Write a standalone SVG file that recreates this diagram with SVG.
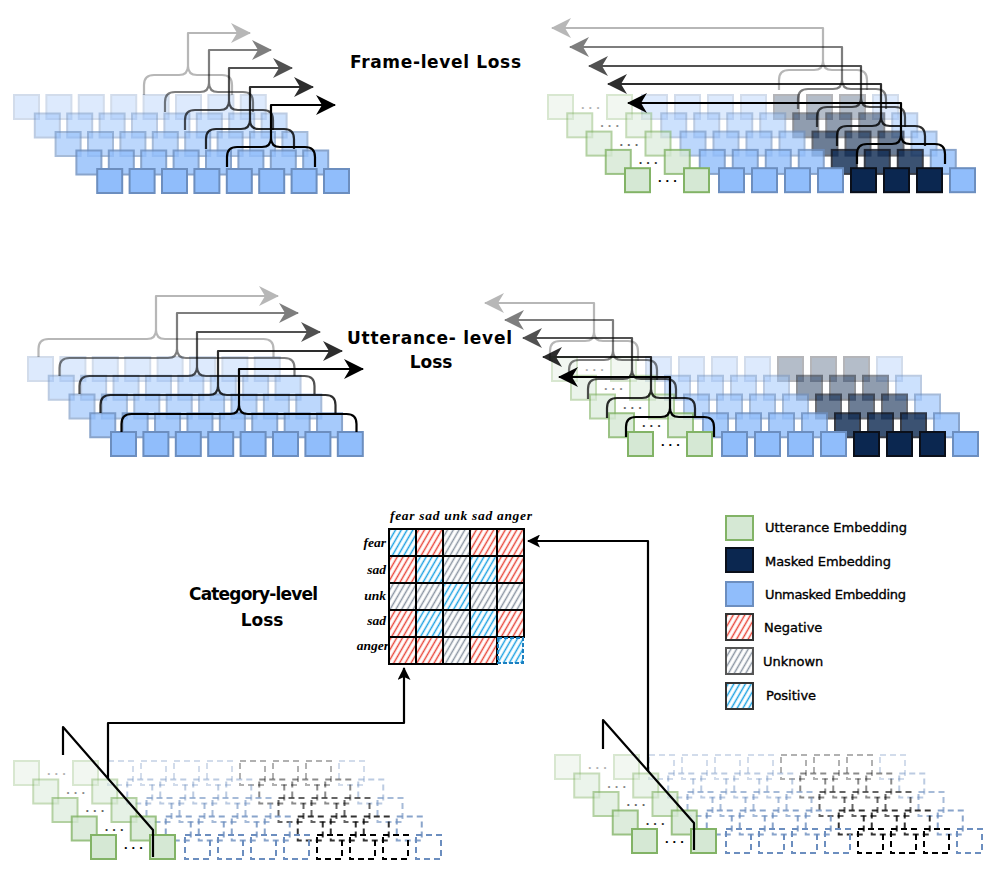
<svg xmlns="http://www.w3.org/2000/svg" xmlns:xlink="http://www.w3.org/1999/xlink" width="997" height="875" viewBox="0 0 997 875">
<style>
.ub{fill:#90bdfb;stroke:#6c8ebf;stroke-width:2}
.ug{fill:#d5e8d4;stroke:#82b366;stroke-width:2}
.mk{fill:#0b2750;stroke:#0a0f1a;stroke-width:2}
.ubd{fill:none;stroke:#6c8ebf;stroke-width:2;stroke-dasharray:6 4}
.mkd{fill:none;stroke:#000;stroke-width:2;stroke-dasharray:6 4}
.br{fill:none;stroke:#000;stroke-width:2.2;stroke-linejoin:round}
.ar{fill:none;stroke:#000;stroke-width:2.2;stroke-linejoin:round}
.dots{font-family:"Liberation Sans",Arial,sans-serif;font-weight:bold;font-size:13px;letter-spacing:4px;fill:#000}
.title{font-family:"DejaVu Sans",sans-serif;font-weight:bold;font-size:17px;fill:#000}
.leg{font-family:"DejaVu Sans",sans-serif;font-size:13px;fill:#000;stroke:#000;stroke-width:0.35}
.lab{font-family:"Liberation Serif","Times New Roman",serif;font-style:italic;font-weight:bold;font-size:13.5px;fill:#000}
.cell{stroke:#000;stroke-width:2}
</style>
<defs>
<marker id="ah" viewBox="0 0 20 20" refX="19" refY="10" markerWidth="20" markerHeight="20" markerUnits="userSpaceOnUse" orient="auto"><path d="M0,0 L20,10 L0,20 L6,10 Z" fill="#000"/></marker>
<marker id="ahs" viewBox="0 0 13 13" refX="12" refY="6.5" markerWidth="13" markerHeight="13" markerUnits="userSpaceOnUse" orient="auto"><path d="M0,0 L13,6.5 L0,13 L3,6.5 Z" fill="#000"/></marker>
<pattern id="hR" width="5" height="5" patternUnits="userSpaceOnUse" patternTransform="rotate(30)"><line x1="2.5" y1="0" x2="2.5" y2="5" stroke="#e8473a" stroke-width="1.5"/></pattern>
<pattern id="hG" width="5" height="5" patternUnits="userSpaceOnUse" patternTransform="rotate(30)"><line x1="2.5" y1="0" x2="2.5" y2="5" stroke="#8a94a2" stroke-width="1.5"/></pattern>
<pattern id="hB" width="5" height="5" patternUnits="userSpaceOnUse" patternTransform="rotate(30)"><line x1="2.5" y1="0" x2="2.5" y2="5" stroke="#1ba1e2" stroke-width="1.5"/></pattern>
<g id="plainRow">
<rect class="ub" x="0" y="0" width="25" height="24"/><rect class="ub" x="32.4" y="0" width="25" height="24"/><rect class="ub" x="64.8" y="0" width="25" height="24"/><rect class="ub" x="97.2" y="0" width="25" height="24"/><rect class="ub" x="129.6" y="0" width="25" height="24"/><rect class="ub" x="162" y="0" width="25" height="24"/><rect class="ub" x="194.4" y="0" width="25" height="24"/><rect class="ub" x="226.8" y="0" width="25" height="24"/>
</g>
<g id="maskRow">
<rect class="ug" x="0" y="0" width="25" height="24"/><text class="dots" x="33" y="14">...</text><rect class="ug" x="59" y="0" width="25" height="24"/>
<rect class="ub" x="94" y="0" width="25" height="24"/><rect class="ub" x="127" y="0" width="25" height="24"/><rect class="ub" x="160" y="0" width="25" height="24"/><rect class="ub" x="193" y="0" width="25" height="24"/>
<rect class="mk" x="226" y="0" width="25" height="24"/><rect class="mk" x="259" y="0" width="25" height="24"/><rect class="mk" x="292" y="0" width="25" height="24"/>
<rect class="ub" x="325" y="0" width="25" height="24"/>
</g>
<g id="dashRow">
<rect class="ug" x="0" y="0" width="25" height="24"/><text class="dots" x="33" y="14">...</text><rect class="ug" x="59" y="0" width="25" height="24"/>
<rect class="ubd" x="94" y="0" width="25" height="24"/><rect class="ubd" x="127" y="0" width="25" height="24"/><rect class="ubd" x="160" y="0" width="25" height="24"/><rect class="ubd" x="193" y="0" width="25" height="24"/>
<rect class="mkd" x="226" y="0" width="25" height="24"/><rect class="mkd" x="259" y="0" width="25" height="24"/><rect class="mkd" x="292" y="0" width="25" height="24"/>
<rect class="ubd" x="325" y="0" width="25" height="24"/>
</g>
</defs>
<rect width="997" height="875" fill="#fff"/>

<g id="frame-plain">
<use xlink:href="#plainRow" href="#plainRow" x="14" y="95" opacity="0.3"/>
<use xlink:href="#plainRow" href="#plainRow" x="34.8" y="113.5" opacity="0.45"/>
<use xlink:href="#plainRow" href="#plainRow" x="55.6" y="132" opacity="0.6"/>
<use xlink:href="#plainRow" href="#plainRow" x="76.4" y="150.5" opacity="0.8"/>
<use xlink:href="#plainRow" href="#plainRow" x="97.2" y="169" opacity="1"/>
</g>
<g id="frame-masked">
<use xlink:href="#maskRow" href="#maskRow" x="548" y="95" opacity="0.3"/>
<use xlink:href="#maskRow" href="#maskRow" x="567.25" y="113.3" opacity="0.45"/>
<use xlink:href="#maskRow" href="#maskRow" x="586.5" y="131.6" opacity="0.6"/>
<use xlink:href="#maskRow" href="#maskRow" x="605.75" y="149.9" opacity="0.8"/>
<use xlink:href="#maskRow" href="#maskRow" x="625" y="168.2" opacity="1"/>
</g>
<g id="utt-plain">
<use xlink:href="#plainRow" href="#plainRow" x="28" y="357" opacity="0.3"/>
<use xlink:href="#plainRow" href="#plainRow" x="48.75" y="375.75" opacity="0.45"/>
<use xlink:href="#plainRow" href="#plainRow" x="69.5" y="394.5" opacity="0.6"/>
<use xlink:href="#plainRow" href="#plainRow" x="90.25" y="413.25" opacity="0.8"/>
<use xlink:href="#plainRow" href="#plainRow" x="111" y="432" opacity="1"/>
</g>
<g id="utt-masked">
<use xlink:href="#maskRow" href="#maskRow" x="552" y="357" opacity="0.3"/>
<use xlink:href="#maskRow" href="#maskRow" x="571" y="375.75" opacity="0.45"/>
<use xlink:href="#maskRow" href="#maskRow" x="590" y="394.5" opacity="0.6"/>
<use xlink:href="#maskRow" href="#maskRow" x="609" y="413.25" opacity="0.8"/>
<use xlink:href="#maskRow" href="#maskRow" x="628" y="432" opacity="1"/>
</g>
<g id="cat-left">
<use xlink:href="#dashRow" href="#dashRow" x="14" y="761" opacity="0.3"/>
<use xlink:href="#dashRow" href="#dashRow" x="33.25" y="779.5" opacity="0.45"/>
<use xlink:href="#dashRow" href="#dashRow" x="52.5" y="798" opacity="0.6"/>
<use xlink:href="#dashRow" href="#dashRow" x="71.75" y="816.5" opacity="0.8"/>
<use xlink:href="#dashRow" href="#dashRow" x="91" y="835" opacity="1"/>
</g>
<g id="cat-right">
<use xlink:href="#dashRow" href="#dashRow" x="555" y="755" opacity="0.3"/>
<use xlink:href="#dashRow" href="#dashRow" x="574.25" y="773.5" opacity="0.45"/>
<use xlink:href="#dashRow" href="#dashRow" x="593.5" y="792" opacity="0.6"/>
<use xlink:href="#dashRow" href="#dashRow" x="612.75" y="810.5" opacity="0.8"/>
<use xlink:href="#dashRow" href="#dashRow" x="632" y="829" opacity="1"/>
</g>

<g id="matrix">
<rect class="cell" x="389" y="529" width="27" height="27" fill="url(#hB)"/><rect class="cell" x="416" y="529" width="27" height="27" fill="url(#hR)"/><rect class="cell" x="443" y="529" width="27" height="27" fill="url(#hG)"/><rect class="cell" x="470" y="529" width="27" height="27" fill="url(#hR)"/><rect class="cell" x="497" y="529" width="27" height="27" fill="url(#hR)"/>
<rect class="cell" x="389" y="556" width="27" height="27" fill="url(#hR)"/><rect class="cell" x="416" y="556" width="27" height="27" fill="url(#hB)"/><rect class="cell" x="443" y="556" width="27" height="27" fill="url(#hG)"/><rect class="cell" x="470" y="556" width="27" height="27" fill="url(#hB)"/><rect class="cell" x="497" y="556" width="27" height="27" fill="url(#hR)"/>
<rect class="cell" x="389" y="583" width="27" height="27" fill="url(#hG)"/><rect class="cell" x="416" y="583" width="27" height="27" fill="url(#hG)"/><rect class="cell" x="443" y="583" width="27" height="27" fill="url(#hB)"/><rect class="cell" x="470" y="583" width="27" height="27" fill="url(#hG)"/><rect class="cell" x="497" y="583" width="27" height="27" fill="url(#hG)"/>
<rect class="cell" x="389" y="610" width="27" height="27" fill="url(#hR)"/><rect class="cell" x="416" y="610" width="27" height="27" fill="url(#hB)"/><rect class="cell" x="443" y="610" width="27" height="27" fill="url(#hG)"/><rect class="cell" x="470" y="610" width="27" height="27" fill="url(#hB)"/><rect class="cell" x="497" y="610" width="27" height="27" fill="url(#hR)"/>
<rect class="cell" x="389" y="637" width="27" height="27" fill="url(#hR)"/><rect class="cell" x="416" y="637" width="27" height="27" fill="url(#hR)"/><rect class="cell" x="443" y="637" width="27" height="27" fill="url(#hG)"/><rect class="cell" x="470" y="637" width="27" height="27" fill="url(#hR)"/>
<rect x="498" y="638" width="25" height="25" fill="url(#hB)" stroke="#1b7fc0" stroke-width="2" stroke-dasharray="4 2"/>
<text class="lab" x="390" y="520" textLength="142">fear sad unk sad anger</text>
<text class="lab" x="386" y="547" text-anchor="end">fear</text>
<text class="lab" x="386" y="574" text-anchor="end">sad</text>
<text class="lab" x="386" y="600" text-anchor="end">unk</text>
<text class="lab" x="386" y="625" text-anchor="end">sad</text>
<text class="lab" x="389" y="650" text-anchor="end">anger</text>
</g>

<g id="legend">
<rect class="ug" x="726" y="516" width="27" height="24"/>
<rect class="mk" x="726" y="548" width="27" height="24"/>
<rect class="ub" x="726" y="582" width="27" height="24"/>
<rect x="726" y="614" width="27" height="26" fill="url(#hR)" stroke="#333" stroke-width="2"/>
<rect x="726" y="648" width="27" height="26" fill="url(#hG)" stroke="#555" stroke-width="2"/>
<rect x="726" y="683" width="27" height="26" fill="url(#hB)" stroke="#333" stroke-width="2"/>
<text class="leg" x="765" y="531.5" textLength="142">Utterance Embedding</text>
<text class="leg" x="765" y="566" textLength="126">Masked Embedding</text>
<text class="leg" x="765" y="599" textLength="141">Unmasked Embedding</text>
<text class="leg" x="764" y="632">Negative</text>
<text class="leg" x="763" y="666">Unknown</text>
<text class="leg" x="766" y="700">Positive</text>
</g>

<g id="labels">
<text class="title" x="350" y="68" textLength="171">Frame-level Loss</text>
<text class="title" x="347" y="344" textLength="165">Utterance- level</text>
<text class="title" x="431" y="368" text-anchor="middle">Loss</text>
<text class="title" x="189" y="600" textLength="129">Category-level</text>
<text class="title" x="262" y="626" text-anchor="middle">Loss</text>
</g>

<g id="connectors">
<g opacity="0.28"><path class="br" d="M144,95 V85 Q144,75 154,75 H179 Q188,75 188,66 Q188,75 197,75 H222 Q232,75 232,85 V95"/><path class="ar" d="M188,66 V33 H250" marker-end="url(#ah)"/></g>
<g opacity="0.5"><path class="br" d="M165,112 V102 Q165,92 175,92 H200 Q209,92 209,83 Q209,92 218,92 H243 Q253,92 253,102 V112"/><path class="ar" d="M209,83 V50 H271" marker-end="url(#ah)"/></g>
<g opacity="0.68"><path class="br" d="M185,130 V120 Q185,110 195,110 H220 Q229,110 229,101 Q229,110 238,110 H263 Q273,110 273,120 V130"/><path class="ar" d="M229,101 V68 H292" marker-end="url(#ah)"/></g>
<g opacity="0.82"><path class="br" d="M206,149 V139 Q206,129 216,129 H241 Q250,129 250,120 Q250,129 259,129 H284 Q294,129 294,139 V149"/><path class="ar" d="M250,120 V87 H313" marker-end="url(#ah)"/></g>
<g><path class="br" d="M227,167 V157 Q227,147 237,147 H262 Q271,147 271,138 Q271,147 280,147 H305 Q315,147 315,157 V167"/><path class="ar" d="M271,138 V105 H335" marker-end="url(#ah)"/></g>

<g opacity="0.28"><path class="br" d="M779,90 V80 Q779,70 789,70 H814 Q823,70 823,61 Q823,70 832,70 H857 Q867,70 867,80 V90"/><path class="ar" d="M823,61 V28 H552" marker-end="url(#ah)"/></g>
<g opacity="0.5"><path class="br" d="M798,109 V99 Q798,89 808,89 H833 Q842,89 842,80 Q842,89 851,89 H876 Q886,89 886,99 V109"/><path class="ar" d="M842,80 V47 H570" marker-end="url(#ah)"/></g>
<g opacity="0.68"><path class="br" d="M817,127 V117 Q817,107 827,107 H852 Q861,107 861,98 Q861,107 870,107 H895 Q905,107 905,117 V127"/><path class="ar" d="M861,98 V66 H589" marker-end="url(#ah)"/></g>
<g opacity="0.82"><path class="br" d="M837,146 V136 Q837,126 847,126 H872 Q881,126 881,117 Q881,126 890,126 H915 Q925,126 925,136 V146"/><path class="ar" d="M881,117 V84 H608" marker-end="url(#ah)"/></g>
<g><path class="br" d="M857,164 V154 Q857,144 867,144 H892 Q901,144 901,135 Q901,144 910,144 H935 Q945,144 945,154 V164"/><path class="ar" d="M901,135 V103 H628" marker-end="url(#ah)"/></g>

<g opacity="0.28"><path class="br" d="M38.5,357 V349 Q38.5,339 48.5,339 H147 Q156,339 156,330 Q156,339 165,339 H263.5 Q273.5,339 273.5,349 V357"/><path class="ar" d="M156,330 V296 H278" marker-end="url(#ah)"/></g>
<g opacity="0.5"><path class="br" d="M59.5,376 V368 Q59.5,358 69.5,358 H168 Q177,358 177,349 Q177,358 186,358 H284.5 Q294.5,358 294.5,368 V376"/><path class="ar" d="M177,349 V313 H298" marker-end="url(#ah)"/></g>
<g opacity="0.68"><path class="br" d="M79.5,394 V386 Q79.5,376 89.5,376 H188 Q197,376 197,367 Q197,376 206,376 H304.5 Q314.5,376 314.5,386 V394"/><path class="ar" d="M197,367 V332 H320" marker-end="url(#ah)"/></g>
<g opacity="0.82"><path class="br" d="M100.5,413 V405 Q100.5,395 110.5,395 H209 Q218,395 218,386 Q218,395 227,395 H325.5 Q335.5,395 335.5,405 V413"/><path class="ar" d="M218,386 V351 H342" marker-end="url(#ah)"/></g>
<g><path class="br" d="M121.5,432 V424 Q121.5,414 131.5,414 H230 Q239,414 239,405 Q239,414 248,414 H346.5 Q356.5,414 356.5,424 V432"/><path class="ar" d="M239,405 V369 H363" marker-end="url(#ah)"/></g>

<g opacity="0.28"><path class="br" d="M550,361 V351 Q550,341 560,341 H585 Q594,341 594,332 Q594,341 603,341 H628 Q638,341 638,351 V361"/><path class="ar" d="M594,332 V303 H485" marker-end="url(#ah)"/></g>
<g opacity="0.5"><path class="br" d="M569,380 V370 Q569,360 579,360 H604 Q613,360 613,351 Q613,360 622,360 H647 Q657,360 657,370 V380"/><path class="ar" d="M613,351 V320 H505" marker-end="url(#ah)"/></g>
<g opacity="0.68"><path class="br" d="M588,399 V389 Q588,379 598,379 H623 Q632,379 632,370 Q632,379 641,379 H666 Q676,379 676,389 V399"/><path class="ar" d="M632,370 V338 H523" marker-end="url(#ah)"/></g>
<g opacity="0.82"><path class="br" d="M607,418 V408 Q607,398 617,398 H642 Q651,398 651,389 Q651,398 660,398 H685 Q695,398 695,408 V418"/><path class="ar" d="M651,389 V357 H543" marker-end="url(#ah)"/></g>
<g><path class="br" d="M626,437 V427 Q626,417 636,417 H661 Q670,417 670,408 Q670,417 679,417 H704 Q714,417 714,427 V437"/><path class="ar" d="M670,408 V377 H559" marker-end="url(#ah)"/></g>

<path class="ar" d="M63,755 V727 L153,830 V857"/>
<path class="ar" d="M603,749 V720 L694,823 V850"/>
<path class="ar" d="M108,778 V723 H404 V668" marker-end="url(#ahs)"/>
<path class="ar" d="M648,771 V541 H528" marker-end="url(#ahs)"/>
</g>
</svg>
